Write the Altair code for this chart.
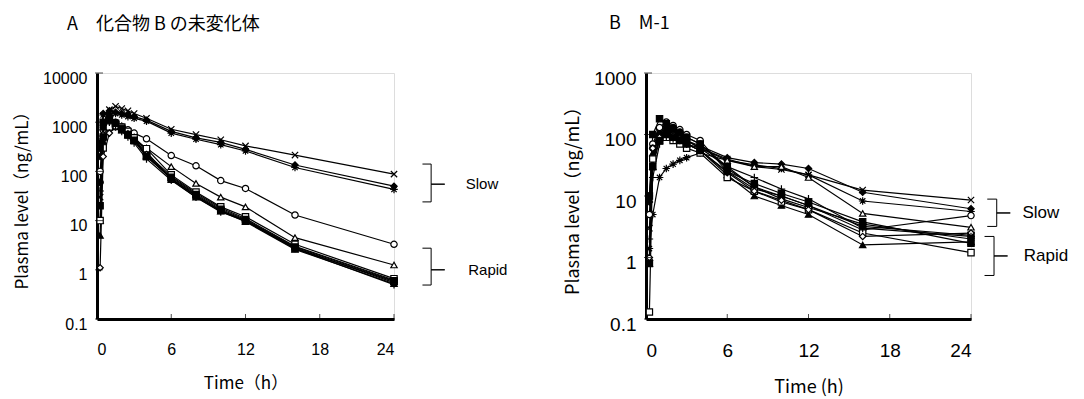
import altair as alt
import pandas as pd

# ---------------- data ----------------
T = [0.25, 0.5, 1, 1.5, 2, 2.5, 3, 4, 6, 8, 10, 12, 16, 24]

# Panel A: unchanged compound B (ng/mL)
A_cross  = [30, 900, 1800, 2100, 1900, 1700, 1500, 1200, 720, 560, 440, 330, 215, 88]
A_dia    = [200, 1500, 1700, 1600, 1500, 1400, 1300, 1100, 650, 480, 390, 280, 135, 50]
A_star   = [400, 1400, 1500, 1500, 1400, 1300, 1200, 1050, 600, 450, 350, 260, 120, 43]
A_circ_o = [100, 700, 1000, 900, 800, 700, 600, 460, 210, 130, 65, 45, 13, 3.3]
A_tri_o  = [10, 600, 900, 800, 700, 550, 420, 300, 125, 57, 30, 19, 4.5, 1.25]
A_sq     = [20, 500, 1100, 900, 700, 550, 420, 200, 72, 32, 16, 10, 2.7, 0.58]
A_circ   = [60, 800, 1300, 1000, 800, 600, 450, 230, 80, 36, 18, 11, 3.0, 0.62]
A_tri    = [5, 400, 900, 1000, 850, 650, 500, 250, 68, 30, 15.5, 9.5, 2.6, 0.52]
A_sq_o   = [10, 300, 800, 900, 800, 650, 480, 290, 85, 38, 19, 12, 3.3, 0.66]
A_dia_o  = [1.1, 200, 600, 800, 700, 580, 420, 220, 70, 32, 16, 10, 2.8, 0.55]
A_plus   = [40, 700, 1000, 850, 650, 500, 380, 180, 66, 30, 15, 9.8, 2.7, 0.5]
A_dia2   = [300, 1000, 1200, 950, 750, 560, 430, 200, 76, 34, 17, 10.5, 2.9, 0.6]

# Panel B: M-1 (ng/mL)
B_cross  = [3, 40, 110, 120, 100, 90, 80, 60, 40, 30, 27, 22, 12.5, 8.6]
B_dia    = [8, 60, 120, 110, 100, 90, 80, 65, 42, 35, 33, 28, 11.5, 6.2]
B_plus   = [1.4, 5, 20, 28, 33, 38, 42, 50, 38, 32, 28, 22, 8.3, 5.6]
B_circ_o = [5, 70, 130, 160, 140, 120, 100, 80, 25, 13, 10, 7, 2.8, 4.8]
B_circ   = [1, 30, 100, 120, 110, 90, 80, 60, 38, 30, 30, 20, 5.2, 3.1]
B_sq     = [10, 100, 180, 150, 120, 100, 90, 70, 30, 14, 10, 7, 3.2, 2.3]
B_sq_o   = [10, 60, 100, 120, 130, 110, 90, 70, 28, 14, 9, 6.5, 3.5, 2.0]
B_tri    = [0.8, 50, 90, 100, 90, 80, 70, 55, 22, 10, 7, 5, 1.6, 1.8]
B_tri_o  = [0.13, 40, 80, 90, 80, 70, 60, 50, 20, 12, 8, 6, 2.5, 1.2]
B_dia_o  = [1, 60, 90, 100, 95, 85, 70, 55, 24, 12, 8.5, 6, 2.2, 2.5]
B_star   = [2, 20, 70, 90, 85, 80, 70, 60, 30, 20, 13, 9, 3.0, 2.2]
B_dash   = [0.8, 30, 80, 100, 90, 80, 70, 55, 25, 16, 11, 8, 3.8, 1.7]

X_TICKS = [0, 6, 12, 18, 24]
Y_TICKS_A = [0.1, 1, 10, 100, 1000, 10000]
Y_TICKS_B = [0.1, 1, 10, 100, 1000]

# bracket annotations: [x_hook, x_spine, x_tip, y_top, y_mid, y_bottom, x_text]
A_SLOW  = [26.3, 27.0, 28.1, 141, 55, 24, 29.8]
A_RAPID = [26.3, 27.0, 28.1, 2.75, 1.0, 0.49, 30.0]
B_SLOW  = [25.2, 25.9, 26.9, 8.9, 5.3, 3.2, 27.8]
B_RAPID = [25.0, 25.7, 26.7, 2.2, 1.06, 0.51, 27.9]

# ---------------- shapes ----------------
X_PATH = "M-1,-1L1,1M-1,1L1,-1"
PLUS_PATH = "M-1.2,0L1.2,0M0,-1.2L0,1.2"
STAR_PATH = "M-1.2,0L1.2,0M0,-1.2L0,1.2M-0.85,-0.85L0.85,0.85M-0.85,0.85L0.85,-0.85"
DASH_PATH = "M-1.2,0L1.2,0"

A_series = [
    ("A_cross", A_cross, X_PATH, "black"),
    ("A_dia", A_dia, "diamond", "black"),
    ("A_star", A_star, STAR_PATH, "black"),
    ("A_circ_o", A_circ_o, "circle", "white"),
    ("A_tri_o", A_tri_o, "triangle-up", "white"),
    ("A_sq", A_sq, "square", "black"),
    ("A_circ", A_circ, "circle", "black"),
    ("A_tri", A_tri, "triangle-up", "black"),
    ("A_sq_o", A_sq_o, "square", "white"),
    ("A_dia_o", A_dia_o, "diamond", "white"),
    ("A_plus", A_plus, PLUS_PATH, "black"),
    ("A_dia2", A_dia2, "square", "black"),
]
B_series = [
    ("B_cross", B_cross, X_PATH, "black"),
    ("B_dia", B_dia, "diamond", "black"),
    ("B_plus", B_plus, PLUS_PATH, "black"),
    ("B_circ_o", B_circ_o, "circle", "white"),
    ("B_circ", B_circ, "circle", "black"),
    ("B_sq", B_sq, "square", "black"),
    ("B_sq_o", B_sq_o, "square", "white"),
    ("B_tri", B_tri, "triangle-up", "black"),
    ("B_tri_o", B_tri_o, "triangle-up", "white"),
    ("B_dia_o", B_dia_o, "diamond", "white"),
    ("B_star", B_star, STAR_PATH, "black"),
    ("B_dash", B_dash, DASH_PATH, "black"),
]

CJK = "Noto Sans CJK JP"
LAT = "Liberation Sans"


def frame(series):
    rows = []
    for sid, vals, _, _ in series:
        for t, v in zip(T, vals):
            rows.append({"id": sid, "t": t, "v": v})
    return pd.DataFrame(rows)


def bracket_frame(spec, label):
    xh, xs, xt, yt, ym, yb, _ = spec
    pts = [(xh, yt), (xs, yt), (xs, ym), (xt, ym), (xs, ym), (xs, yb), (xh, yb)]
    return pd.DataFrame([{"g": label, "o": i, "t": x, "v": y} for i, (x, y) in enumerate(pts)])


def panel(series, yticks, title, w, h, brackets, xtitle, lab_size, ttl_size, note_size, title_dx):
    df = frame(series)
    ids = [s[0] for s in series]
    shapes = [s[2] for s in series]
    fills = [s[3] for s in series]
    xs = alt.Scale(domain=[0, 24], nice=False)
    ys = alt.Scale(type="log", domain=[min(yticks), max(yticks)], nice=False)

    xax = alt.Axis(values=X_TICKS, title=xtitle, domainWidth=3, domainColor="black",
                   ticks=False, grid=False, labelFont=LAT, labelFontSize=lab_size,
                   labelColor="black", labelPadding=22, titleFont=CJK, titleFontSize=ttl_size,
                   titleFontWeight="normal", titleColor="black", titlePadding=18)
    yax = alt.Axis(values=yticks, format="~g", title="Plasma level（ng/mL）", domainWidth=3,
                   domainColor="black", ticks=False, grid=False, labelFont=LAT,
                   labelFontSize=lab_size, labelColor="black", labelPadding=10, labelOffset=5,
                   titleFont=CJK, titleFontSize=ttl_size, titleFontWeight="normal",
                   titleColor="black", titlePadding=11)

    base = alt.Chart(df)
    lines = base.mark_line(color="black", strokeWidth=1.2, clip=False).encode(
        x=alt.X("t:Q", scale=xs, axis=xax),
        y=alt.Y("v:Q", scale=ys, axis=yax),
        detail="id:N",
    )
    pts = base.mark_point(filled=True, stroke="black", strokeWidth=1.2, size=40, opacity=1).encode(
        x=alt.X("t:Q", scale=xs),
        y=alt.Y("v:Q", scale=ys),
        shape=alt.Shape("id:N", scale=alt.Scale(domain=ids, range=shapes), legend=None),
        fill=alt.Fill("id:N", scale=alt.Scale(domain=ids, range=fills), legend=None),
    )
    xt = alt.Chart(pd.DataFrame({"t": X_TICKS[1:]})).mark_tick(
        color="black", thickness=1, size=6, orient="vertical").encode(
        x=alt.X("t:Q", scale=xs), y=alt.value(h - 2))
    yt = alt.Chart(pd.DataFrame({"v": yticks})).mark_tick(
        color="black", thickness=1, size=8, orient="horizontal").encode(
        y=alt.Y("v:Q", scale=ys), x=alt.value(2))

    layers = [lines, pts, xt, yt]
    for spec, label in brackets:
        bdf = bracket_frame(spec, label)
        layers.append(alt.Chart(bdf).mark_line(color="black", strokeWidth=1, clip=False).encode(
            x=alt.X("t:Q", scale=xs), y=alt.Y("v:Q", scale=ys), order="o:Q"))
        tdf = pd.DataFrame({"t": [spec[6]], "v": [spec[4]], "txt": [label]})
        layers.append(alt.Chart(tdf).mark_text(align="left", baseline="middle", font=LAT,
                                              fontSize=note_size, color="black").encode(
            x=alt.X("t:Q", scale=xs), y=alt.Y("v:Q", scale=ys), text="txt:N"))

    return alt.layer(*layers).properties(
        width=w, height=h,
        title=alt.TitleParams(title, anchor="start", frame="group", dx=title_dx, offset=36,
                              font=CJK, fontSize=18, fontWeight="normal", color="black"),
    )


left = panel(A_series, Y_TICKS_A, "A　化合物 B の未変化体", 297, 246,
             [(A_SLOW, "Slow"), (A_RAPID, "Rapid")], "Time（h）", 16, 17, 15, -30)
right = panel(B_series, Y_TICKS_B, "B　M-1", 325, 246,
              [(B_SLOW, "Slow"), (B_RAPID, "Rapid")], "Time (h)", 19, 18, 17, -37)

chart = alt.hconcat(left, right, spacing=252, bounds="flush").properties(
    padding={"left": 5, "top": 6, "right": 2, "bottom": 2}
).configure_view(stroke=None).configure(background="white")

chart.save("out.html", embed_options={"renderer": "svg", "actions": False})
